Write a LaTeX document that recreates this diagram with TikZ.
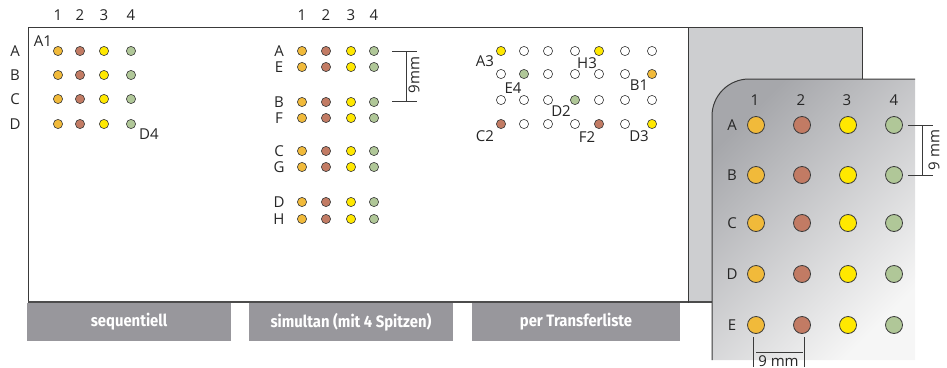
\documentclass[tikz,border=0pt]{standalone}
\usepackage{fontspec}
\setmainfont{Open Sans}
\newfontfamily\boxfont[FakeStretch=0.9]{Fira Sans}
\definecolor{cOr}{HTML}{F1BA3A}
\definecolor{cBr}{HTML}{C27B64}
\definecolor{cYe}{HTML}{FFE800}
\definecolor{cGr}{HTML}{B0C798}
\definecolor{cLine}{HTML}{3A3A3A}
\definecolor{cBox}{HTML}{98979C}
\definecolor{cPlate}{HTML}{CDCED0}
\definecolor{cDark}{HTML}{A6A7AB}
\definecolor{cLight}{HTML}{F6F6F6}
\begin{document}
\begin{tikzpicture}[x=1pt,y=-1pt,
  lbl/.style={inner sep=0pt,font=\fontsize{15}{17}\selectfont,text=black!85},
  sdot/.style={draw=cLine,line width=0.6pt},
  bdot/.style={draw=cLine,line width=0.8pt},
  tab/.style={fill=cBox,minimum height=38pt,inner sep=0pt,text=white,
    font=\boxfont\bfseries\fontsize{16.5}{18}\selectfont},
  dim/.style={draw=cLine,line width=0.7pt}]
\useasboundingbox (0,0) rectangle (947,367);
% back gray plate
\fill[cPlate] (688,27) rectangle (862,302);
\draw[cLine,line width=0.9pt] (688,27) -- (862,27) -- (862,79);
\draw[black!70,line width=1.2pt] (688,302) -- (712,302);
% white field
\draw[cLine,line width=0.9pt,fill=white] (28,27) rectangle (688,302);
\draw[black!70,line width=1.4pt] (28,302) -- (688,302);
% tabs
\node[tab,minimum width=204pt] (t1) at (129,322) {sequentiell};
\node[tab,minimum width=204pt] (t2) at (351,322) {simultan (mit 4 Spitzen)};
\node[tab,minimum width=208pt] (t3) at (576,322) {per Transferliste};
% front plate
\shade[top color=cDark,bottom color=cLight,shading angle=45]
  (712,360) -- (712,116) arc[start angle=180,end angle=270,radius=37] -- (915,79) -- (915,360) -- cycle;
\draw[cLine,line width=1pt] (712,360) -- (712,116) arc[start angle=180,end angle=270,radius=37] -- (915,79);
% ---- panel 1 ----
\foreach \x/\n in {58/1,80/2,104/3,131/4} \node[lbl] (p1c\n) at (\x,15) {\n};
\foreach \y/\r in {51/A,75/B,99/C,124/D} {
  \node[lbl] (p1r\r) at (15,\y) {\r};
  \foreach \x/\c in {58/cOr,80/cBr,104/cYe,131/cGr}
    \draw[sdot,fill=\c] (\x,\y) circle[radius=4.6];
}
\node[lbl] (p1a1) at (43,41) {A1};
\node[lbl] (p1d4) at (149,134) {D4};
% ---- panel 2 ----
\foreach \x/\n in {302/1,326/2,351/3,374/4} \node[lbl] (p2c\n) at (\x,15) {\n};
\foreach \y/\r in {51/A,67/E,102/B,118/F,151/C,167/G,202/D,219/H} {
  \node[lbl] (p2r\r) at (279,\y) {\r};
  \foreach \x/\c in {302/cOr,326/cBr,351/cYe,374/cGr}
    \draw[sdot,fill=\c] (\x,\y) circle[radius=4.6];
}
\coordinate (d2a) at (392,51); \coordinate (d2b) at (417,51);
\coordinate (d2c) at (392,101); \coordinate (d2d) at (417,101);
\draw[dim] (d2a) -- (d2b); \draw[dim] (d2c) -- (d2d);
\draw[dim] (406,51) -- (406,101);
\node[lbl,rotate=90] (p2dim) at (414,75) {9mm};
% ---- panel 3 ----
\foreach \y/\cols in {51/{cYe,white,white,white,cYe,white,white},
                      74/{white,cGr,white,white,white,white,cOr},
                      100/{white,white,white,cGr,white,white,white},
                      124/{cBr,white,white,white,cBr,white,cYe}} {
  \foreach \c [count=\i] in \cols {
    \pgfmathsetmacro{\xx}{{501,524,548,575,599,625,652}[\i-1]}
    \draw[sdot,fill=\c] (\xx,\y) circle[radius=4.6];
  }
}
\node[lbl] (p3a3) at (485,61) {A3};
\node[lbl] (p3h3) at (587,63) {H3};
\node[lbl] (p3e4) at (513,88) {E4};
\node[lbl] (p3b1) at (639,85) {B1};
\node[lbl] (p3d2) at (561,111) {D2};
\node[lbl] (p3c2) at (485,136) {C2};
\node[lbl] (p3f2) at (587,137) {F2};
\node[lbl] (p3d3) at (639,136) {D3};
% ---- front plate contents ----
\foreach \x/\n in {755/1,801/2,847/3,894/4} \node[lbl] (fc\n) at (\x,100) {\n};
\foreach \y/\r in {125/A,175/B,223/C,274/D,325/E} {
  \node[lbl] (fr\r) at (732,\y) {\r};
  \foreach \x/\c in {756/cOr,802/cBr,848/cYe,894/cGr}
    \draw[bdot,fill=\c] (\x,\y) circle[radius=8.5];
}
\coordinate (fd1) at (908,125); \coordinate (fd2) at (933,125);
\coordinate (fd3) at (908,175); \coordinate (fd4) at (933,175);
\draw[dim] (fd1) -- (fd2); \draw[dim] (fd3) -- (fd4);
\draw[dim] (922,125) -- (922,175);
\node[lbl,rotate=90] (fdim) at (934,150) {9 mm};
\draw[dim] (753,337) -- (753,367);
\draw[dim] (804,337) -- (804,367);
\draw[dim] (756,352) -- (803,352);
\node[lbl,anchor=north] (fdimb) at (778.5,355) {9 mm};
\end{tikzpicture}
\end{document}
